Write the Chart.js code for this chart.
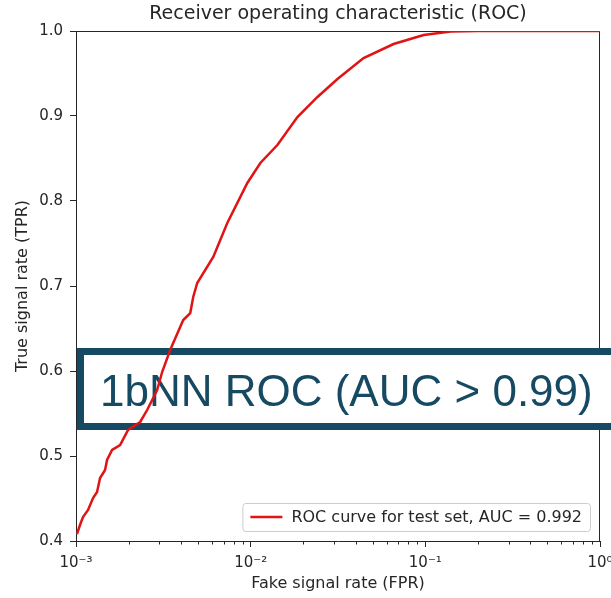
<!DOCTYPE html>
<html>
<head>
<meta charset="utf-8">
<script src="https://cdn.jsdelivr.net/npm/chart.js@4"></script>
<style>
  html, body { margin: 0; padding: 0; background: #fff; }
  canvas { display: block; }
</style>
</head>
<body>
<canvas id="rocChart" width="611" height="598"></canvas>
<script>
// ROC curve (FPR on a log axis, TPR linear)
const fprValues = [0.001013, 0.001054, 0.001097, 0.001172, 0.001252, 0.001320, 0.001373, 0.001467,
  0.001506, 0.001609, 0.001788, 0.001987, 0.002329, 0.002555, 0.002915, 0.003113, 0.003461,
  0.004111, 0.004508, 0.004690, 0.004943, 0.006108, 0.007348, 0.009570, 0.011362, 0.014222,
  0.018523, 0.024125, 0.031414, 0.044288, 0.065808, 0.09783, 0.13975, 0.19965, 1.0];
const tprValues = [0.4082, 0.4188, 0.4282, 0.4365, 0.4506, 0.4576, 0.4741, 0.4835,
  0.4953, 0.5071, 0.5129, 0.5306, 0.5400, 0.5541, 0.5776, 0.5988, 0.6247,
  0.6600, 0.6682, 0.6871, 0.7035, 0.7341, 0.7741, 0.8212, 0.8447, 0.8659,
  0.8988, 0.9224, 0.9435, 0.9682, 0.9847, 0.9953, 0.9994, 1.0, 1.0];

const xTickValues = [0.001, 0.01, 0.1, 1];
const xTickLabels = ['10\u207B\u00B3', '10\u207B\u00B2', '10\u207B\u00B9', '10\u2070'];
const yTickValues = [0.4, 0.5, 0.6, 0.7, 0.8, 0.9, 1.0];

const seriesLabel = 'ROC curve for test set, AUC = 0.992';
const titleText = 'Receiver operating characteristic (ROC)';
const xTitle = 'Fake signal rate (FPR)';
const yTitle = 'True signal rate (TPR)';
const bannerText = '1bNN ROC (AUC > 0.99)';

const inkColor = '#262626';
const lineColor = '#e01414';
const bannerColor = '#164a62';
const baseFont = 'DejaVu Sans';

function isMajor(v) {
  return xTickValues.some(m => Math.abs(m - v) / m < 1e-6);
}

// extra drawing: frame, minor ticks, title, the banner box, legend
const extras = {
  id: 'extras',
  beforeDatasetsDraw(chart) {
    const { ctx, chartArea: a, scales } = chart;
    ctx.save();
    ctx.strokeStyle = inkColor;
    ctx.lineWidth = 1;
    ctx.beginPath();
    ctx.moveTo(a.left, a.top + 0.5);
    ctx.lineTo(a.right, a.top + 0.5);
    ctx.moveTo(a.right - 0.5, a.top);
    ctx.lineTo(a.right - 0.5, a.bottom);
    ctx.stroke();

    // short minor ticks on the log axis
    ctx.beginPath();
    scales.x.ticks.forEach(t => {
      if (isMajor(t.value)) return;
      const px = Math.round(scales.x.getPixelForValue(t.value)) + 0.5;
      ctx.moveTo(px, a.bottom);
      ctx.lineTo(px, a.bottom + 3.5);
    });
    ctx.stroke();

    // title
    ctx.fillStyle = inkColor;
    ctx.font = '19px "' + baseFont + '"';
    ctx.textAlign = 'center';
    ctx.textBaseline = 'middle';
    ctx.fillText(titleText, (a.left + a.right) / 2, 14);

    // banner box laid over the plot
    ctx.fillStyle = '#ffffff';
    ctx.fillRect(80, 351, 540, 76);
    ctx.strokeStyle = bannerColor;
    ctx.lineWidth = 7;
    ctx.strokeRect(80.5, 351.5, 560, 75);
    ctx.fillStyle = bannerColor;
    ctx.font = '44px "Liberation Sans"';
    ctx.textAlign = 'left';
    ctx.textBaseline = 'alphabetic';
    ctx.fillText(bannerText, 100, 406);
    ctx.restore();
  },
  afterDatasetsDraw(chart) {
    const { ctx, chartArea: a } = chart;
    const ds = chart.data.datasets[0];
    ctx.save();
    ctx.font = '16px "' + baseFont + '"';
    const w = ctx.measureText(ds.label).width;
    const boxW = 49 + w + 8;
    const boxH = 28;
    const right = a.right - 10;
    const bottom = a.bottom - 10;
    const left = right - boxW;
    const top = bottom - boxH;
    ctx.fillStyle = 'rgba(255,255,255,0.8)';
    ctx.strokeStyle = '#cccccc';
    ctx.lineWidth = 1;
    ctx.beginPath();
    ctx.roundRect(left + 0.5, top + 0.5, boxW, boxH, 3);
    ctx.fill();
    ctx.stroke();
    ctx.strokeStyle = ds.borderColor;
    ctx.lineWidth = ds.borderWidth;
    ctx.beginPath();
    ctx.moveTo(left + 8, top + boxH / 2);
    ctx.lineTo(left + 40, top + boxH / 2);
    ctx.stroke();
    ctx.fillStyle = inkColor;
    ctx.textBaseline = 'middle';
    ctx.fillText(ds.label, left + 49, top + boxH / 2 + 1);
    ctx.restore();
  }
};

const points = fprValues.map((x, i) => ({ x: x, y: tprValues[i] }));

new Chart(document.getElementById('rocChart'), {
  type: 'scatter',
  data: {
    datasets: [{
      label: seriesLabel,
      data: points,
      showLine: true,
      borderColor: lineColor,
      borderWidth: 2.5,
      pointRadius: 0,
      tension: 0
    }]
  },
  options: {
    responsive: false,
    animation: false,
    layout: { padding: { top: 31, right: 11, left: 0, bottom: 0 } },
    plugins: {
      legend: { display: false },
      title: { display: false },
      tooltip: { enabled: false }
    },
    scales: {
      x: {
        type: 'logarithmic',
        position: 'bottom',
        min: 0.001,
        max: 1,
        afterBuildTicks(scale) {
          const ticks = [];
          for (let e = -3; e < 0; e++) {
            for (let m = 1; m < 10; m++) ticks.push({ value: m * Math.pow(10, e) });
          }
          ticks.push({ value: 1 });
          scale.ticks = ticks;
        },
        afterFit(scale) {
          scale.height = 57;
          scale.paddingLeft = 0;
          scale.paddingRight = 0;
        },
        ticks: {
          autoSkip: false,
          maxRotation: 0,
          padding: 7,
          color: inkColor,
          font: { family: baseFont, size: 15 },
          callback(value) {
            const i = xTickValues.findIndex(m => Math.abs(m - value) / m < 1e-6);
            return i >= 0 ? xTickLabels[i] : '';
          }
        },
        grid: {
          display: true,
          drawOnChartArea: false,
          drawTicks: true,
          tickLength: 6,
          tickColor: ctx => (ctx.tick && isMajor(ctx.tick.value)) ? inkColor : 'rgba(0,0,0,0)'
        },
        border: { display: true, color: inkColor, width: 1 },
        title: {
          display: true,
          text: xTitle,
          color: inkColor,
          font: { family: baseFont, size: 16 },
          padding: { top: 0, bottom: 5 }
        }
      },
      y: {
        type: 'linear',
        position: 'left',
        min: 0.4,
        max: 1.0,
        afterBuildTicks(scale) {
          scale.ticks = yTickValues.map(v => ({ value: v }));
        },
        afterFit(scale) {
          scale.width = 76;
          scale.paddingTop = 0;
          scale.paddingBottom = 0;
        },
        ticks: {
          padding: 7,
          color: inkColor,
          font: { family: baseFont, size: 15 },
          callback: value => Number(value).toFixed(1)
        },
        grid: {
          display: true,
          drawOnChartArea: false,
          drawTicks: true,
          tickLength: 6,
          tickColor: inkColor
        },
        border: { display: true, color: inkColor, width: 1 },
        title: {
          display: true,
          text: yTitle,
          color: inkColor,
          font: { family: baseFont, size: 16 },
          padding: { top: 13, bottom: 0 }
        }
      }
    }
  },
  plugins: [extras]
});
</script>
</body>
</html>
